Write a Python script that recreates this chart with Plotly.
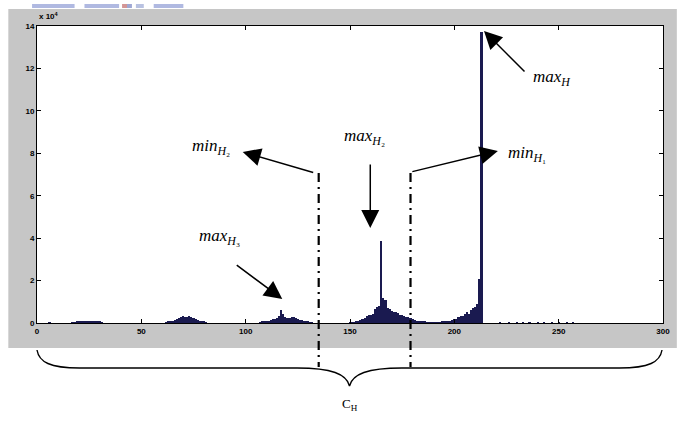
import plotly.graph_objects as go

# ---------------- data ----------------
bin_centers = [6,
    17, 18, 19, 20, 21, 22, 23, 24, 25, 26, 27, 28, 29, 30, 31,
    62, 63, 64, 65, 66, 67, 68, 69, 70, 71, 72, 73, 74, 75, 76, 77, 78, 79, 80, 81,
    107, 108, 109, 110, 111, 112, 113, 114, 115, 116, 117, 118, 119, 120, 121, 122, 123,
    124, 125, 126, 127, 128, 129, 130, 131, 132,
    150, 151, 152, 153, 154, 155, 156, 157, 158, 159, 160, 161, 162, 163, 164, 165, 166,
    167, 168, 169, 170, 171, 172, 173, 174, 175, 176, 177, 178, 179, 180, 181, 182, 183,
    184, 185, 186, 187, 188, 189, 190, 191, 192, 193, 194, 195, 196, 197, 198, 199, 200,
    201, 202, 203, 204, 205, 206, 207, 208, 209, 210, 211, 212, 213,
    222, 226, 230, 233, 236, 240, 243, 247, 250, 254, 257]
bin_counts = [300,
    200, 400, 600, 700, 800, 900, 1000, 1000, 1100, 1000, 1000, 900, 700, 500, 300,
    300, 500, 700, 1000, 1300, 1700, 2200, 2900, 3300, 2800, 3000, 3300, 2900, 2300, 1700, 1300, 1000, 800, 500, 300,
    300, 500, 700, 900, 1100, 1400, 1700, 2000, 2300, 3200, 5900, 4200, 2600, 2300, 2400, 2900, 2600,
    2200, 2000, 1600, 1300, 1000, 800, 600, 400, 200,
    100, 200, 300, 600, 1000, 1400, 1800, 2400, 3300, 3800, 4000, 4200, 6500, 7500, 8000, 38700, 12000,
    11000, 7200, 6800, 5600, 5200, 5000, 4800, 4000, 3800, 3500, 3000, 2800, 2400, 1800, 1300, 1000, 800,
    600, 500, 500, 400, 400, 400, 400, 400, 400, 400, 500, 500, 600, 700, 900, 1200, 1700,
    2000, 2800, 3300, 3400, 4200, 5200, 4300, 6000, 7000, 7500, 9000, 20800, 137000,
    300, 200, 300, 200, 300, 200, 300, 200, 300, 200, 300]

x_tickvals = [0, 50, 100, 150, 200, 250, 300]
y_tickvals = [0, 20000, 40000, 60000, 80000, 100000, 120000, 140000]
y_ticktext = ["0", "2", "4", "6", "8", "10", "12", "14"]

threshold_lines = [135, 179]   # min_H2, min_H1 positions

# ---------------- figure ----------------
W, H = 682, 427
L, R, T, B = 37, 670, 26, 323   # plot box in pixels


def PX(p):
    return (p - L) / (R - L)


def PY(p):
    return (B - p) / (B - T)


fig = go.Figure()
fig.add_trace(go.Bar(
    x=bin_centers, y=bin_counts, width=1,
    marker=dict(color="#1a1a50", line=dict(width=0)),
    hoverinfo="skip",
))

shapes = []
# grey MATLAB figure background
shapes.append(dict(type="rect", xref="paper", yref="paper", layer="below",
                   x0=PX(8), x1=PX(684), y0=PY(348), y1=PY(9),
                   fillcolor="#c6c6c6", line=dict(width=0)))
# white axes area
shapes.append(dict(type="rect", xref="paper", yref="paper", layer="below",
                   x0=0, x1=1, y0=0, y1=1,
                   fillcolor="white", line=dict(width=0)))
# faint toolbar links at very top
for a, b, c in [(32, 75, "#6f7fc8"), (85, 120, "#6f7fc8"), (123, 128, "#b04040"),
                (128, 133, "#5060b0"), (137, 145, "#8090c8"), (155, 185, "#6f7fc8")]:
    shapes.append(dict(type="rect", xref="paper", yref="paper", layer="below",
                       x0=PX(a), x1=PX(b), y0=PY(8), y1=PY(4),
                       fillcolor=c, opacity=0.55, line=dict(width=0)))
# dash-dot threshold lines
for xv in threshold_lines:
    shapes.append(dict(type="line", xref="x", yref="paper",
                       x0=xv, x1=xv, y0=PY(173), y1=PY(367),
                       line=dict(color="black", width=2.2, dash="9px,5px,2px,5px")))
# curly brace under the axis
xl, xr, xm = PX(37), PX(669), PX(353)
ye, yh, yt = PY(350), PY(368), PY(386)
brace = (f"M {xl},{ye} C {PX(39)},{PY(362)} {PX(50)},{yh} {PX(80)},{yh} "
         f"L {PX(300)},{yh} C {PX(335)},{yh} {PX(350)},{PY(374)} {xm},{yt} "
         f"C {PX(356)},{PY(374)} {PX(371)},{yh} {PX(406)},{yh} "
         f"L {PX(626)},{yh} C {PX(656)},{yh} {PX(667)},{PY(362)} {xr},{ye}")
shapes.append(dict(type="path", xref="paper", yref="paper", path=brace,
                   line=dict(color="black", width=1.4)))

ann = []
math_font = dict(family="Liberation Serif, DejaVu Serif, serif", size=17, color="black")


def arrow(hx, hy, tx, ty):
    ann.append(dict(xref="paper", yref="paper", x=PX(hx), y=PY(hy),
                    ax=tx - hx, ay=ty - hy, showarrow=True, text="",
                    arrowhead=2, arrowsize=2.4, arrowwidth=1.5, arrowcolor="black"))


def label(x, y, txt, font=math_font):
    ann.append(dict(xref="paper", yref="paper", x=PX(x), y=PY(y), text=txt,
                    showarrow=False, xanchor="center", yanchor="middle", font=font))


arrow(489, 31, 531, 73)       # max_H
arrow(245, 152, 317, 173)     # min_H2
arrow(374, 228, 374, 163)     # max_H2
arrow(503, 151, 416, 172)     # min_H1
arrow(285, 299, 238, 264)     # max_H3

label(558, 78, "<i>max</i><sub><i>H</i></sub>")
label(213, 147, "<i>min</i><sub><i>H</i>₂</sub>")
label(368, 137, "<i>max</i><sub><i>H</i>₂</sub>")
label(532, 154, "<i>min</i><sub><i>H</i>₁</sub>")
label(222, 237, "<i>max</i><sub><i>H</i>₃</sub>")
label(353, 404, "C<sub>H</sub>",
      font=dict(family="Liberation Serif, DejaVu Serif, serif", size=13, color="black"))
# exponent label of y axis
ann.append(dict(xref="paper", yref="paper", x=PX(37), y=PY(23), text="x 10<sup>4</sup>",
                showarrow=False, xanchor="left", yanchor="bottom",
                font=dict(family="Liberation Sans, Arial, sans-serif", size=8,
                          color="black", weight="bold")))

tick_font = dict(family="Liberation Sans, Arial, sans-serif", size=8, color="black",
                 weight="bold")

fig.update_layout(
    width=W, height=H, autosize=False,
    margin=dict(l=L, r=W - R, t=T, b=H - B, pad=0),
    paper_bgcolor="white", plot_bgcolor="white",
    showlegend=False, bargap=0,
    shapes=shapes, annotations=ann,
    xaxis=dict(range=[0, 300], tickvals=x_tickvals, ticks="inside", ticklen=4,
               tickcolor="black", showline=True, linecolor="black", linewidth=1,
               mirror="ticks", showgrid=False, zeroline=False, tickfont=tick_font),
    yaxis=dict(range=[0, 140000], tickvals=y_tickvals, ticktext=y_ticktext,
               ticks="inside", ticklen=4, tickcolor="black", showline=True,
               linecolor="black", linewidth=1, mirror="ticks", showgrid=False,
               zeroline=False, tickfont=tick_font),
)

fig.write_html("out.html", config={"displayModeBar": False},
               post_script="document.body.style.margin='0';document.body.style.overflow='hidden';")
